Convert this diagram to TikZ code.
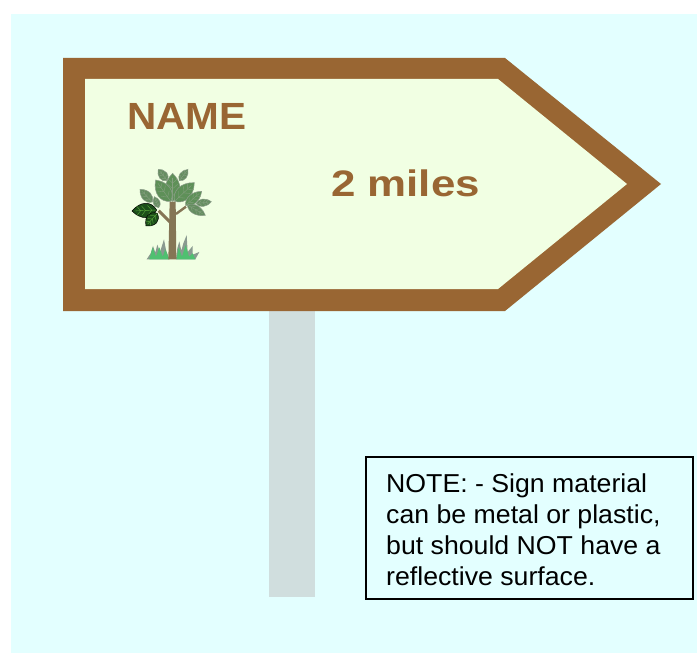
\documentclass[tikz,border=0pt]{standalone}
\usepackage{fontspec}
\setmainfont{Liberation Sans}
\definecolor{skybg}{HTML}{E3FFFF}
\definecolor{signbrown}{HTML}{996633}
\definecolor{signface}{HTML}{F1FFE3}
\definecolor{postgrey}{HTML}{D0DEDE}
\definecolor{leafmid}{HTML}{5E9058}
\definecolor{leafedge}{HTML}{8E9E8C}
\definecolor{leafvein}{HTML}{86A080}
\definecolor{leafdark}{HTML}{1C4F1A}
\definecolor{veindark}{HTML}{5FB040}
\definecolor{trunkc}{HTML}{857555}
\definecolor{grassg}{HTML}{4FC070}
\definecolor{grassd}{HTML}{8A9A90}
\tikzset{
  signtext/.style={text=signbrown,anchor=base west,inner sep=0pt,transform shape,font=\bfseries\fontsize{38}{38}\selectfont},
  notebox/.style={draw=black,line width=1.3pt},
  notetext/.style={anchor=base west,inner sep=0pt,xscale=1.03,transform shape,font=\fontsize{26}{26}\selectfont,text=black},
}
% base x, base y, tip x, tip y, width, fill, vein, edge
\newcommand{\myleaf}[8]{%
  \pgfmathsetmacro{\ddx}{#3-#1}\pgfmathsetmacro{\ddy}{#4-#2}
  \pgfmathsetmacro{\lln}{veclen(\ddx,\ddy)}
  \pgfmathsetmacro{\nnx}{-\ddy/\lln*#5*.68}\pgfmathsetmacro{\nny}{\ddx/\lln*#5*.68}
  \filldraw[fill=#6,draw=#8,line width=.5pt] (#1,#2) .. controls ({#1+.2*\ddx+\nnx},{#2+.2*\ddy+\nny}) and ({#1+.65*\ddx+\nnx},{#2+.65*\ddy+\nny}) .. (#3,#4)
     .. controls ({#1+.65*\ddx-\nnx},{#2+.65*\ddy-\nny}) and ({#1+.2*\ddx-\nnx},{#2+.2*\ddy-\nny}) .. (#1,#2) -- cycle;
  \draw[#7,line width=.4pt] (#1,#2) -- ({#1+.85*\ddx},{#2+.85*\ddy});
  \foreach \tt in {.2,.45,.65}{
    \draw[#7,line width=.35pt] ({#1+\tt*\ddx},{#2+\tt*\ddy}) -- ({#1+(\tt+.16)*\ddx+.5*\nnx},{#2+(\tt+.16)*\ddy+.5*\nny});
    \draw[#7,line width=.35pt] ({#1+\tt*\ddx},{#2+\tt*\ddy}) -- ({#1+(\tt+.16)*\ddx-.5*\nnx},{#2+(\tt+.16)*\ddy-.5*\nny});
  }%
}
\begin{document}
\begin{tikzpicture}[x=1bp,y=-1bp]
\useasboundingbox (0,0) rectangle (697,653);
\fill[white] (0,0) rectangle (697,653);
\fill[skybg] (11,14) rectangle (697,653);
% post
\fill[postgrey] (269,300) rectangle (315,597);
% sign
\fill[signbrown] (63,58) -- (505,58) -- (661,184) -- (505,311) -- (63,311) -- cycle;
\fill[signface] (85,79) -- (498,79) -- (627,184) -- (498,289) -- (85,289) -- cycle;
\node[signtext,xscale=1.07] (signname) at (127,129.5) {NAME};
\node[signtext,xscale=1.19,font=\bfseries\fontsize{37}{37}\selectfont] (signdist) at (331,196) {2 miles};
% tree
\begin{scope}[shift={(120,160)},x=.3333bp,y=-.3333bp]
  \draw[trunkc,line width=3pt] (116,152) -- (150,186);
  \draw[trunkc,line width=2.4pt] (168,162) -- (198,140);
  % grass, grey blades
  \fill[grassd] (80,298) -- (92,280) -- (99,258) -- (106,278) -- (112,254) -- (120,276) -- (132,238) -- (138,270) -- (148,298) -- cycle;
  \fill[grassd] (168,298) -- (172,265) -- (178,244) -- (184,272) -- (190,250) -- (200,225) -- (203,276) -- (218,258) -- (218,284) -- (238,276) -- (226,298) -- cycle;
  % grass, green blades
  \fill[grassg] (88,298) -- (98,262) -- (108,290) -- (118,262) -- (128,290) -- (136,268) -- (148,298) -- cycle;
  \fill[grassg] (169,298) -- (176,262) -- (186,290) -- (197,255) -- (207,290) -- (218,280) -- (226,298) -- cycle;
  \fill[trunkc] (149,125) -- (167,125) -- (169,298) -- (145,298) -- cycle;
  \myleaf{158}{124}{158}{40}{44}{leafmid}{leafvein}{leafedge}
  \myleaf{152}{124}{107}{60}{42}{leafmid}{leafvein}{leafedge}
  \myleaf{164}{124}{223}{68}{42}{leafmid}{leafvein}{leafedge}
  \myleaf{142}{62}{115}{28}{26}{leafmid!80!gray}{leafvein}{leafedge}
  \myleaf{178}{62}{204}{28}{22}{leafmid!80!gray}{leafvein}{leafedge}
  \myleaf{97}{126}{60}{88}{28}{leafmid!80!gray}{leafvein}{leafedge}
  \myleaf{116}{143}{103}{110}{20}{leafmid!80!gray}{leafvein}{leafedge}
  \myleaf{197}{136}{245}{94}{28}{leafmid}{leafvein}{leafedge}
  \myleaf{228}{131}{274}{125}{22}{leafmid!80!gray}{leafvein}{leafedge}
  \myleaf{202}{135}{256}{166}{26}{leafmid!80!gray}{leafvein}{leafedge}
  \myleaf{110}{150}{36}{153}{42}{leafdark}{veindark}{black}
  \myleaf{112}{160}{78}{198}{34}{leafdark}{veindark}{black}
\end{scope}
% note
\draw[notebox] (366,457) rectangle (693,599);
\node[notetext] (n1) at (386,492) {NOTE: - Sign material};
\node[notetext] (n2) at (386,523) {can be metal or plastic,};
\node[notetext] (n3) at (386,554) {but should NOT have a};
\node[notetext] (n4) at (386,585) {reflective surface.};
\end{tikzpicture}
\end{document}
